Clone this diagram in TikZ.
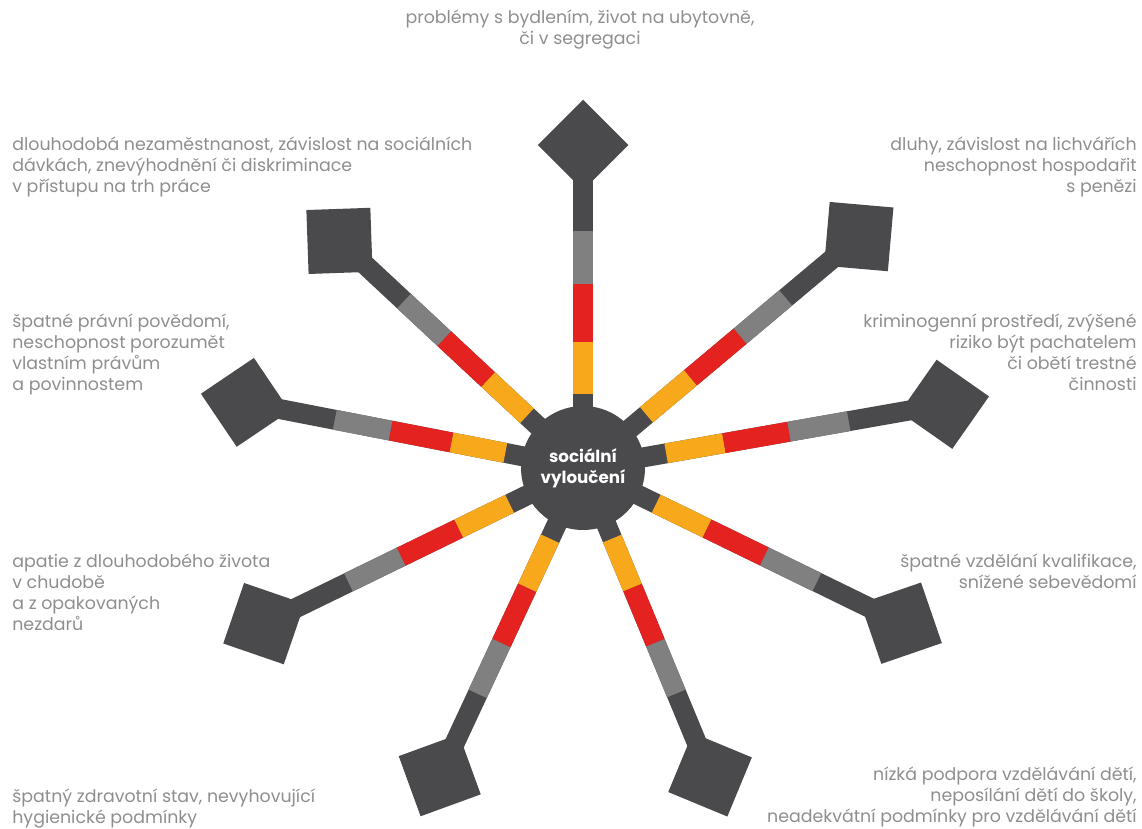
\documentclass[tikz,border=0pt]{standalone}
\usepackage{fontspec}
\setmainfont{Poppins}
\usetikzlibrary{calc}
\usetikzlibrary{positioning}
\usetikzlibrary{backgrounds}

\definecolor{hubgray}{HTML}{4A4A4D}
\definecolor{midgray}{HTML}{808080}
\definecolor{spokered}{HTML}{E42320}
\definecolor{spokeorange}{HTML}{F7A81B}
\definecolor{txtgray}{HTML}{8E8E8E}

\begin{document}
\begin{tikzpicture}[
        x=0.02cm, y=0.02cm,
        hub/.style={circle, fill=hubgray, minimum size=2.48cm, inner sep=0,
            text=white, align=center, font=\bfseries\fontsize{9.5}{12}\selectfont},
        endsq/.style={fill=hubgray, minimum size=1.28cm, inner sep=0},
        spoke/.style={line width=0.4cm},
        desc/.style={text=txtgray, inner sep=0, font=\fontsize{9.9}{11.9}\selectfont}
    ]
        \useasboundingbox (0,0) rectangle (1142,-828);

        % paprsky: jméno/úhel/vzdálenost
        \def\spokes{
            housing/90/323,
            debts/40/360,
            crime/10/367,
            school/-26/354,
            children/-67.5/332,
            health/-115/339,
            apathy/-154/355,
            rights/169/344,
            work/137/333
        }

        % střed
        \node[hub] (hub) at (583,-468) {sociální\\vyloučení};

        % čtverce na koncích
        \foreach \name/\ang/\dist in \spokes {
            \node[endsq, rotate=\ang+45] (\name) at ($(hub.center)+(\ang:\dist)$) {};
        }

        % barevné úseky
        \begin{scope}[on background layer]
        \foreach \name/\ang/\dist in \spokes {
            \draw[spoke, hubgray] (hub.center) -- (\name.center);
            \draw[spoke, spokeorange] ($(hub.center)!0.23!(\name.center)$) -- ($(hub.center)!0.39!(\name.center)$);
            \draw[spoke, spokered] ($(hub.center)!0.39!(\name.center)$) -- ($(hub.center)!0.57!(\name.center)$);
            \draw[spoke, midgray] ($(hub.center)!0.57!(\name.center)$) -- ($(hub.center)!0.735!(\name.center)$);
        }
        \end{scope}

        % popisky
        \node[desc, anchor=north, align=center] (housing-txt) at (580,-10)
            {problémy s bydlením, život na ubytovně,\\či v segregaci};
        \node[desc, anchor=north west, align=left] (work-txt) at (12,-137)
            {dlouhodobá nezaměstnanost, závislost na sociálních\\dávkách, znevýhodnění či diskriminace\\v přístupu na trh práce};
        \node[desc, anchor=north east, align=right] (debts-txt) at (1137,-137)
            {dluhy, závislost na lichvářích\\neschopnost hospodařit\\s penězi};
        \node[desc, anchor=north west, align=left] (rights-txt) at (12,-314)
            {špatné právní povědomí,\\neschopnost porozumět\\vlastním právům\\a povinnostem};
        \node[desc, anchor=north east, align=right] (crime-txt) at (1137,-314)
            {kriminogenní prostředí, zvýšené\\riziko být pachatelem\\či obětí trestné\\činnosti};
        \node[desc, anchor=north west, align=left] (apathy-txt) at (12,-554)
            {apatie z dlouhodobého života\\v chudobě\\a z opakovaných\\nezdarů};
        \node[desc, anchor=north east, align=right] (school-txt) at (1137,-554)
            {špatné vzdělání kvalifikace,\\snížené sebevědomí};
        \node[desc, anchor=north west, align=left] (health-txt) at (12,-789)
            {špatný zdravotní stav, nevyhovující\\hygienické podmínky};
        \node[desc, anchor=north east, align=right] (children-txt) at (1137,-767)
            {nízká podpora vzdělávání dětí,\\neposílání dětí do školy,\\neadekvátní podmínky pro vzdělávání dětí};
    \end{tikzpicture}
\end{document}
